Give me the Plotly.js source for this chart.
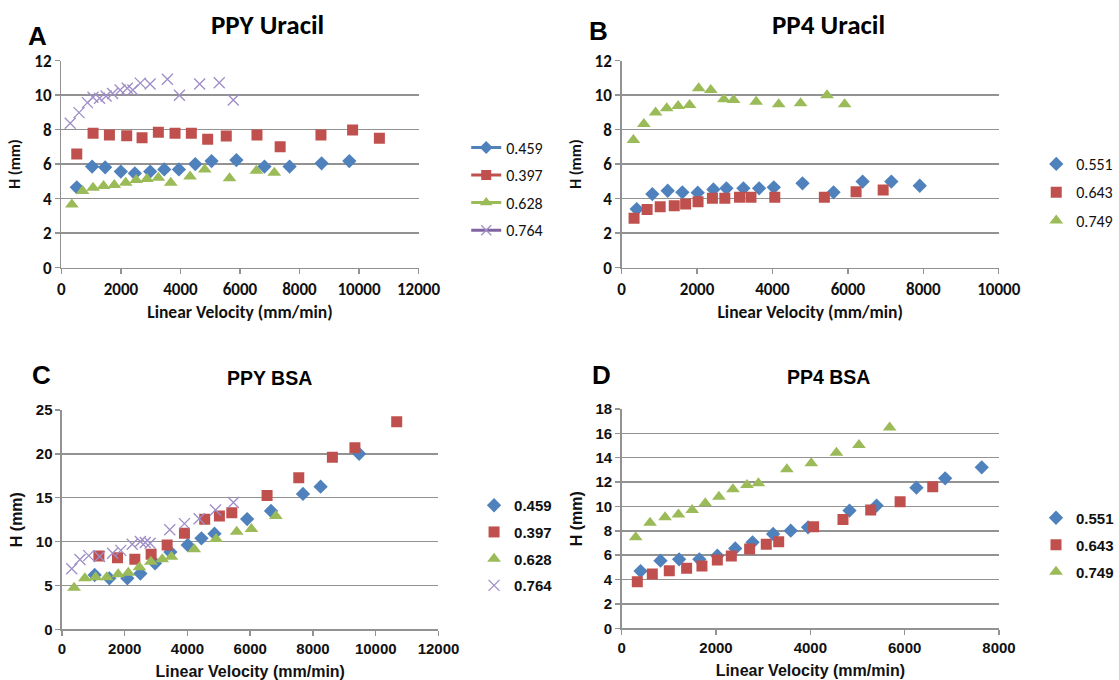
<!DOCTYPE html>
<html>
<head>
<meta charset="utf-8">
<script src="https://cdn.plot.ly/plotly-3.0.1.min.js"></script>
<style>
  html, body { margin: 0; padding: 0; background: #fff; }
  #chart { width: 1119px; height: 680px; }
</style>
</head>
<body>
<div id="chart"></div>
<script>
// ---- Panel A: PPY Uracil ----
const ppyUracil_459_x = [516, 1031, 1470, 1997, 2468, 2984, 3456, 3949, 4498, 5046, 5880, 6823, 7668, 8743, 9675];
const ppyUracil_459_y = [4.66, 5.86, 5.82, 5.57, 5.47, 5.57, 5.70, 5.70, 6.01, 6.18, 6.24, 5.86, 5.86, 6.05, 6.18];
const ppyUracil_397_x = [516, 1064, 1613, 2194, 2710, 3258, 3818, 4366, 4915, 5540, 6571, 7350, 8721, 9785, 10685];
const ppyUracil_397_y = [6.59, 7.79, 7.69, 7.65, 7.54, 7.85, 7.79, 7.79, 7.44, 7.63, 7.69, 7.01, 7.69, 7.98, 7.50];
const ppyUracil_628_x = [351, 713, 1064, 1415, 1777, 2161, 2512, 2874, 3258, 3675, 4322, 4816, 5650, 6549, 7153];
const ppyUracil_628_y = [3.67, 4.44, 4.64, 4.73, 4.79, 4.93, 5.08, 5.14, 5.22, 4.93, 5.28, 5.70, 5.18, 5.62, 5.51];
const ppyUracil_764_x = [296, 592, 875, 1062, 1282, 1500, 1720, 1973, 2213, 2400, 2651, 2980, 3561, 3966, 4646, 5304, 5775];
const ppyUracil_764_y = [8.37, 8.99, 9.57, 9.88, 9.82, 9.95, 10.1, 10.3, 10.4, 10.3, 10.7, 10.65, 10.92, 10.0, 10.65, 10.72, 9.72];

// ---- Panel B: PP4 Uracil ----
const pp4Uracil_551_x = [398, 814, 1221, 1610, 2017, 2433, 2779, 3229, 3645, 4035, 4796, 5619, 6390, 7152, 7905];
const pp4Uracil_551_y = [3.40, 4.27, 4.46, 4.37, 4.35, 4.54, 4.60, 4.60, 4.60, 4.66, 4.89, 4.37, 4.99, 4.99, 4.75];
const pp4Uracil_643_x = [329, 675, 1022, 1394, 1697, 2026, 2407, 2736, 3126, 3429, 4061, 5376, 6217, 6935];
const pp4Uracil_643_y = [2.86, 3.38, 3.54, 3.59, 3.69, 3.83, 4.02, 4.02, 4.08, 4.08, 4.08, 4.08, 4.41, 4.50];
const pp4Uracil_749_x = [312, 589, 900, 1195, 1498, 1801, 2043, 2364, 2710, 2970, 3567, 4164, 4745, 5446, 5913];
const pp4Uracil_749_y = [7.40, 8.33, 8.99, 9.24, 9.37, 9.43, 10.4, 10.3, 9.76, 9.72, 9.62, 9.47, 9.53, 10.0, 9.47];

// ---- Panel C: PPY BSA ----
const ppyBsa_459_x = [1041, 1509, 2082, 2498, 2966, 3455, 4007, 4444, 4860, 5901, 6661, 7681, 8243, 9471];
const ppyBsa_459_y = [6.19, 5.81, 5.81, 6.35, 7.52, 8.8, 9.61, 10.37, 10.9, 12.56, 13.5, 15.43, 16.26, 20.0];
const ppyBsa_397_x = [1176, 1769, 2321, 2841, 3351, 3903, 4548, 5017, 5412, 6536, 7546, 8618, 9336, 10668];
const ppyBsa_397_y = [8.36, 8.17, 7.98, 8.55, 9.61, 10.94, 12.54, 12.92, 13.30, 15.24, 17.29, 19.6, 20.7, 23.67];
const ppyBsa_628_x = [385, 729, 1072, 1426, 1790, 2113, 2467, 2831, 3195, 3487, 4215, 4913, 5568, 6037, 6817];
const ppyBsa_628_y = [4.75, 5.81, 5.93, 5.93, 6.27, 6.46, 7.07, 7.71, 7.98, 8.28, 9.12, 10.30, 11.13, 11.44, 12.92];
const ppyBsa_764_x = [310, 572, 853, 1197, 1613, 1873, 2238, 2498, 2654, 2810, 3435, 3903, 4371, 4892, 5464];
const ppyBsa_764_y = [6.9, 7.95, 8.4, 8.3, 8.66, 9.0, 9.69, 10.0, 9.9, 9.8, 11.35, 12.05, 12.6, 13.6, 14.45];

// ---- Panel D: PP4 BSA ----
const pp4Bsa_551_x = [401, 823, 1218, 1647, 2028, 2408, 2775, 3211, 3585, 3951, 4830, 5404, 6249, 6858, 7633];
const pp4Bsa_551_y = [4.70, 5.55, 5.66, 5.66, 5.96, 6.56, 7.06, 7.74, 8.01, 8.29, 9.66, 10.07, 11.54, 12.31, 13.21];
const pp4Bsa_643_x = [332, 650, 1010, 1377, 1702, 2028, 2325, 2713, 3066, 3329, 4069, 4692, 5280, 5903, 6595];
const pp4Bsa_643_y = [3.83, 4.46, 4.73, 4.92, 5.11, 5.61, 5.94, 6.51, 6.89, 7.11, 8.34, 8.94, 9.71, 10.39, 11.62];
const pp4Bsa_749_x = [298, 602, 920, 1204, 1495, 1772, 2062, 2360, 2657, 2899, 3502, 4020, 4553, 5030, 5681];
const pp4Bsa_749_y = [7.47, 8.67, 9.11, 9.35, 9.71, 10.26, 10.80, 11.41, 11.76, 11.90, 13.05, 13.54, 14.41, 15.04, 16.49];

// Series names
const ppyNames = ['0.459', '0.397', '0.628', '0.764'];
const pp4Names = ['0.551', '0.643', '0.749'];

// Panel text
const panelTitles = ['PPY Uracil', 'PP4 Uracil', 'PPY BSA', 'PP4 BSA'];
const panelLetters = ['A', 'B', 'C', 'D'];
const xTitle = 'Linear Velocity (mm/min)';
const yTitle = 'H (mm)';

// ---- styling ----
const W = 1119, H = 680;
const BLUE = '#4F81BD', RED = '#C0504D', GREEN = '#9BBB59', PURPLE = '#8064A2', PURPLE_X = '#9E8DC6';
const GRID = '#929292';
const CAL = 'Carlito, Lato, "Open Sans", sans-serif';
const ARIAL = '"Liberation Sans", Arial, sans-serif';

const markerStyles = [
  {symbol: 'diamond', size: 11, color: BLUE},
  {symbol: 'square', size: 11, color: RED},
  {symbol: 'triangle-up', size: 12, color: GREEN},
  {symbol: 'x-thin-open', size: 11, color: PURPLE_X, line: {width: 1.3, color: PURPLE_X}}
];
const legendLineColors = [BLUE, RED, GREEN, PURPLE];

function fx(px) { return px / W; }
function fy(py) { return 1 - py / H; }

const traces = [];
function addSeries(xs, ys, axisIdx, styleIdx, name, legendId, legendWithLine) {
  const ax = axisIdx === 1 ? '' : String(axisIdx);
  const st = markerStyles[styleIdx];
  traces.push({
    type: 'scatter', mode: 'markers', x: xs, y: ys, name: name,
    xaxis: 'x' + ax, yaxis: 'y' + ax,
    marker: Object.assign({}, st),
    showlegend: !legendWithLine,
    legend: legendId, legendgroup: legendId + name,
    hoverinfo: 'x+y+name'
  });
  if (legendWithLine) {
    // legend key drawn as a line with a marker on it
    traces.push({
      type: 'scatter', mode: 'lines+markers', x: [null], y: [null], name: name,
      xaxis: 'x' + ax, yaxis: 'y' + ax,
      line: {color: legendLineColors[styleIdx], width: 3},
      marker: Object.assign({}, st, {size: st.size - 1}),
      showlegend: true, legend: legendId, legendgroup: legendId + name
    });
  }
}

addSeries(ppyUracil_459_x, ppyUracil_459_y, 1, 0, ppyNames[0], 'legend', true);
addSeries(ppyUracil_397_x, ppyUracil_397_y, 1, 1, ppyNames[1], 'legend', true);
addSeries(ppyUracil_628_x, ppyUracil_628_y, 1, 2, ppyNames[2], 'legend', true);
addSeries(ppyUracil_764_x, ppyUracil_764_y, 1, 3, ppyNames[3], 'legend', true);

addSeries(pp4Uracil_551_x, pp4Uracil_551_y, 2, 0, pp4Names[0], 'legend2', false);
addSeries(pp4Uracil_643_x, pp4Uracil_643_y, 2, 1, pp4Names[1], 'legend2', false);
addSeries(pp4Uracil_749_x, pp4Uracil_749_y, 2, 2, pp4Names[2], 'legend2', false);

addSeries(ppyBsa_459_x, ppyBsa_459_y, 3, 0, ppyNames[0], 'legend3', false);
addSeries(ppyBsa_397_x, ppyBsa_397_y, 3, 1, ppyNames[1], 'legend3', false);
addSeries(ppyBsa_628_x, ppyBsa_628_y, 3, 2, ppyNames[2], 'legend3', false);
addSeries(ppyBsa_764_x, ppyBsa_764_y, 3, 3, ppyNames[3], 'legend3', false);

addSeries(pp4Bsa_551_x, pp4Bsa_551_y, 4, 0, pp4Names[0], 'legend4', false);
addSeries(pp4Bsa_643_x, pp4Bsa_643_y, 4, 1, pp4Names[1], 'legend4', false);
addSeries(pp4Bsa_749_x, pp4Bsa_749_y, 4, 2, pp4Names[2], 'legend4', false);

function xAxis(domainPx, maxV, font, tickSize, titleSize, anchor, standoff) {
  return {
    domain: [fx(domainPx[0]), fx(domainPx[1])], anchor: anchor,
    range: [0, maxV], dtick: 2000, tick0: 0, tickformat: 'd',
    showgrid: false, zeroline: false,
    showline: true, linecolor: GRID, linewidth: 1.5,
    ticks: 'outside', ticklen: 5, tickcolor: GRID, tickwidth: 1.5,
    tickfont: {family: font, size: tickSize, color: '#111', weight: 'bold'},
    title: {text: xTitle, font: {family: font, size: titleSize, color: '#111', weight: 'bold'}, standoff: standoff},
    fixedrange: true
  };
}
function yAxis(domainPx, maxV, dt, font, tickSize, titleSize, anchor) {
  return {
    domain: [fy(domainPx[1]), fy(domainPx[0])], anchor: anchor,
    range: [0, maxV], dtick: dt, tick0: 0,
    showgrid: true, gridcolor: GRID, gridwidth: 1.5,
    zeroline: false,
    showline: true, linecolor: GRID, linewidth: 1.5,
    ticks: 'outside', ticklen: 5, tickcolor: GRID, tickwidth: 1.5,
    tickfont: {family: font, size: tickSize, color: '#111', weight: 'bold'},
    title: {text: yTitle, font: {family: font, size: titleSize, color: '#111', weight: 'bold'}, standoff: 9},
    fixedrange: true
  };
}

function ann(text, px, py, size, font) {
  return {
    text: text, xref: 'paper', yref: 'paper', x: fx(px), y: fy(py),
    xanchor: 'center', yanchor: 'middle', showarrow: false,
    font: {family: font, size: size, color: '#000', weight: 'bold'}
  };
}

function legendBox(px, py, font, size, bold, gap) {
  return {
    x: fx(px), y: fy(py), xanchor: 'left', yanchor: 'top',
    bgcolor: 'rgba(0,0,0,0)', borderwidth: 0,
    font: {family: font, size: size, color: '#111', weight: bold ? 'bold' : 'normal'},
    tracegroupgap: gap, itemclick: false, itemdoubleclick: false
  };
}

const layout = {
  width: W, height: H,
  margin: {l: 0, r: 0, t: 0, b: 0},
  paper_bgcolor: '#fff', plot_bgcolor: '#fff',
  showlegend: true,
  xaxis: xAxis([62.7, 427.3], 12000, CAL, 17, 17.5, 'y', 7),
  yaxis: yAxis([60.7, 267.7], 12, 2, CAL, 17, 16, 'x'),
  xaxis2: xAxis([634.7, 1019.7], 10000, CAL, 17, 17.5, 'y2', 7),
  yaxis2: yAxis([60.7, 267.7], 12, 2, CAL, 17, 16, 'x2'),
  xaxis3: xAxis([63.3, 447.7], 12000, ARIAL, 15, 16, 'y3', 10),
  yaxis3: yAxis([410, 629.3], 25, 5, ARIAL, 15, 16, 'x3'),
  xaxis4: xAxis([634.7, 1020], 8000, ARIAL, 15, 16, 'y4', 10),
  yaxis4: yAxis([409, 628.3], 18, 2, ARIAL, 15, 16, 'x4'),
  legend: legendBox(476, 130.5, CAL, 16, false, 3.8),
  legend2: legendBox(1058, 147, CAL, 16, false, 4.5),
  legend3: legendBox(484, 489, ARIAL, 15, true, 4.2),
  legend4: legendBox(1058, 501.5, ARIAL, 15, true, 4.5),
  annotations: [
    ann(panelLetters[0], 38, 36, 26, ARIAL),
    ann(panelLetters[1], 611, 31, 26, ARIAL),
    ann(panelLetters[2], 42, 375, 26, ARIAL),
    ann(panelLetters[3], 614, 375, 26, ARIAL),
    ann(panelTitles[0], 273, 25, 27, CAL),
    ann(panelTitles[1], 846, 25, 27, CAL),
    ann(panelTitles[2], 275, 378, 19.5, ARIAL),
    ann(panelTitles[3], 846, 377, 19.5, ARIAL)
  ]
};

Plotly.newPlot('chart', traces, layout, {displayModeBar: false, staticPlot: true});
</script>
</body>
</html>
